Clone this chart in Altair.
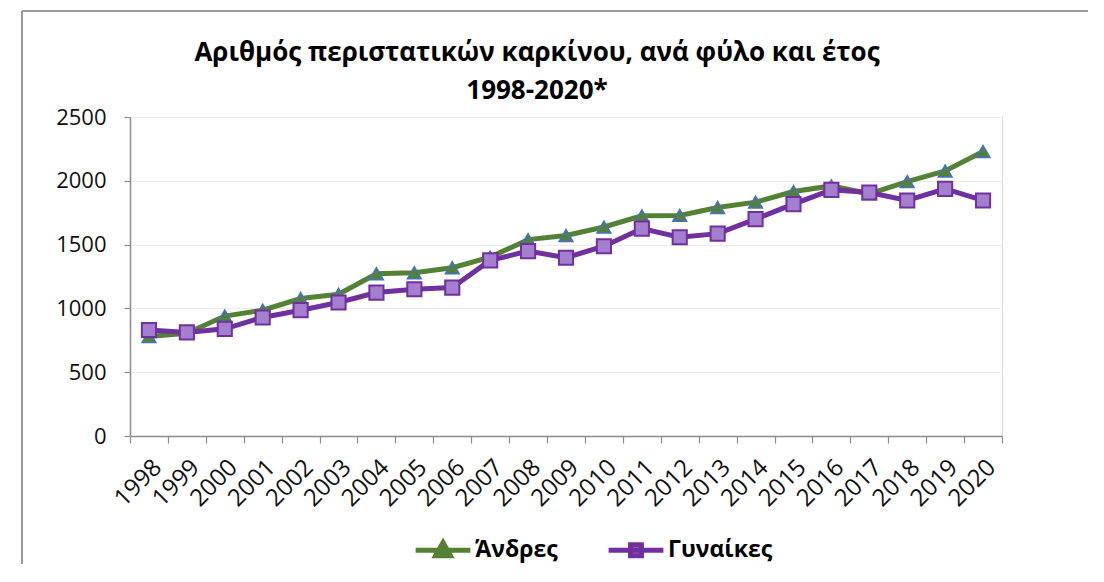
import altair as alt
import pandas as pd

years = ["1998", "1999", "2000", "2001", "2002", "2003", "2004", "2005", "2006", "2007", "2008",
         "2009", "2010", "2011", "2012", "2013", "2014", "2015", "2016", "2017", "2018", "2019", "2020"]
andres = [779, 805, 940, 986, 1077, 1111, 1272, 1280, 1319, 1402, 1539,
          1571, 1638, 1726, 1729, 1791, 1833, 1916, 1960, 1898, 1994, 2077, 2230]
gynaikes = [831, 812, 840, 929, 986, 1046, 1124, 1150, 1163, 1376, 1449,
            1397, 1487, 1625, 1558, 1586, 1700, 1817, 1929, 1908, 1846, 1937, 1846]
series = ["Άνδρες", "Γυναίκες"]
title_lines = ["Αριθμός περιστατικών καρκίνου, ανά φύλο και έτος", "1998-2020*"]

GREEN = "#548235"
PURPLE = "#7030A0"
LIGHT_PURPLE = "#a47fcd"
BLUE = "#4472C4"
FONT = "Open Sans"

rows = []
for i, y in enumerate(years):
    rows.append({"Έτος": y, "Τιμή": andres[i], "Φύλο": series[0]})
    rows.append({"Έτος": y, "Τιμή": gynaikes[i], "Φύλο": series[1]})
df = pd.DataFrame(rows)

x_enc = alt.X("Έτος:O", sort=years,
              scale=alt.Scale(type="band", paddingInner=0, paddingOuter=0),
              axis=alt.Axis(title=None, labelAngle=-45, labelFontSize=24, labelFont=FONT,
                            labelColor="#111", tickBand="extent", tickSize=7, tickColor="#8c8c8c",
                            domainColor="#8c8c8c", domainWidth=1.5, tickWidth=1.2, grid=False,
                            labelPadding=12))
y_enc = alt.Y("Τιμή:Q", scale=alt.Scale(domain=[0, 2500], nice=False),
              axis=alt.Axis(title=None, values=[0, 500, 1000, 1500, 2000, 2500], format="d",
                            labelFontSize=22, labelFont=FONT, labelColor="#111", tickSize=6,
                            tickColor="#8c8c8c", domainColor="#8c8c8c", domainWidth=1.5,
                            tickWidth=1.2, gridColor="#ececec", gridWidth=1.2, labelPadding=18))

base = alt.Chart(df).encode(x=x_enc, y=y_enc)

men = base.transform_filter(alt.datum["Φύλο"] == series[0])
women = base.transform_filter(alt.datum["Φύλο"] == series[1])

men_line = men.mark_line(color=GREEN, strokeWidth=5)
men_pts = men.mark_point(shape="triangle-up", filled=True, fill=GREEN, stroke=BLUE,
                         strokeWidth=1.5, size=190, opacity=1)
women_line = women.mark_line(color=PURPLE, strokeWidth=5)
women_pts = women.mark_point(shape="square", filled=True, fill=LIGHT_PURPLE, stroke=PURPLE,
                             strokeWidth=2, size=200, opacity=1)

leg = alt.Legend(orient="none", legendX=283, legendY=403, direction="horizontal", title=None,
                 symbolSize=3000, symbolStrokeWidth=5, symbolOpacity=1, labelFontSize=23,
                 labelFont=FONT, labelFontWeight="bold", labelColor="#000", columnPadding=40,
                 labelOffset=2)
tri_path = "M-1,0H1M0,-0.28L0.27,0.2L-0.27,0.2Z"
sq_path = "M-1,0H1M-0.2,-0.2H0.2V0.2H-0.2Z"
legend_layer = base.transform_filter("false").mark_point(filled=True, opacity=1).encode(
    shape=alt.Shape("Φύλο:N", scale=alt.Scale(domain=series, range=[tri_path, sq_path]), legend=leg),
    fill=alt.Fill("Φύλο:N", scale=alt.Scale(domain=series, range=[GREEN, LIGHT_PURPLE]), legend=leg),
    stroke=alt.Stroke("Φύλο:N", scale=alt.Scale(domain=series, range=[GREEN, PURPLE]), legend=leg),
)

frame_src = alt.Data(values=[{"k": 1}])
frame_top = alt.Chart(frame_src).mark_rule(color="#9a9a9a", strokeWidth=2).encode(
    x=alt.value(-108), x2=alt.value(1000), y=alt.value(-106))
frame_left = alt.Chart(frame_src).mark_rule(color="#9a9a9a", strokeWidth=2).encode(
    x=alt.value(-108), y=alt.value(-106), y2=alt.value(460))

chart = alt.layer(frame_top, frame_left, men_line, men_pts, women_line, women_pts, legend_layer).properties(
    width=872, height=319,
    title=alt.Title(text=title_lines, fontSize=26, font=FONT, fontWeight="bold", color="#000",
                    anchor="middle", dx=-29, dy=106, lineHeight=38, offset=12),
    autosize=alt.AutoSizeParams(type="none"),
    padding={"left": 122, "top": 109, "right": 86, "bottom": 128},
).configure_view(stroke=None).configure(background="white")

chart.save("out.html", embed_options={"renderer": "svg", "actions": False})
